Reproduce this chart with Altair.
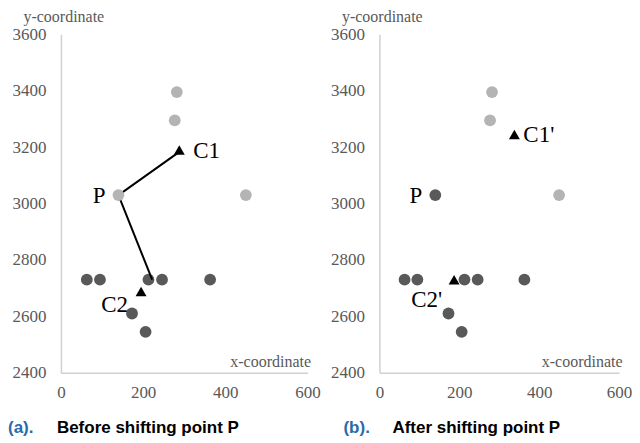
import altair as alt
import pandas as pd

# ---- data ----
light_x = [282, 277, 450]
light_y = [3395, 3295, 3030]
dark_x = [63, 95, 213, 246, 363, 173, 206]
dark_y = [2730, 2730, 2730, 2730, 2730, 2610, 2545]
p_xy = (140, 3030)
c1_before = (288, 3190)
c2_before = (195, 2688)
c1_after = (338, 3245)
c2_after = (187, 2730)
line_x = [288, 140, 222]
line_y = [3183, 3030, 2730]
captions = [("(a).", "Before shifting point P"), ("(b).", "After shifting point P")]
x_ticks = [0, 200, 400, 600]
y_ticks = [2400, 2600, 2800, 3000, 3200, 3400, 3600]

H = 339
SERIF = "Times New Roman"
SANS = "Liberation Sans"

xs = alt.Scale(domain=[0, 600], nice=False)
ys = alt.Scale(domain=[2400, 3600], nice=False)


def make_axes(w):
    xaxis = alt.Axis(values=x_ticks, title="x-coordinate", format="d", labelFont=SERIF,
                     titleFont=SERIF, titleX=w + 3)
    yaxis = alt.Axis(values=y_ticks, title="y-coordinate", format="d", labelFont=SERIF,
                     titleFont=SERIF)
    return xaxis, yaxis


def pts(xv, yv):
    return pd.DataFrame({"x": xv, "y": yv})


def panel(w, p_color, c1, c2, c1_label, c2_label, c1_dx, c2_dx, c2_dy, with_line, cap, cap_x, cap2_x):
    xaxis, yaxis = make_axes(w)

    def enc(ch):
        return ch.encode(x=alt.X("x:Q", scale=xs, axis=xaxis), y=alt.Y("y:Q", scale=ys, axis=yaxis))

    light = enc(alt.Chart(pts(light_x, light_y)).mark_circle(size=140, opacity=1, color="#b4b4b4"))
    dark = enc(alt.Chart(pts(dark_x, dark_y)).mark_circle(size=140, opacity=1, color="#595959"))
    pp = enc(alt.Chart(pts([p_xy[0]], [p_xy[1]])).mark_circle(size=140, opacity=1, color=p_color))
    cen = enc(alt.Chart(pts([c1[0], c2[0]], [c1[1], c2[1]])).mark_point(
        shape="triangle-up", size=120, filled=True, opacity=1, color="black"))
    tp = enc(alt.Chart(pd.DataFrame({"x": [p_xy[0]], "y": [p_xy[1]], "t": ["P"]})).mark_text(
        font=SERIF, fontSize=23, align="right", baseline="middle", dx=-13, dy=1, color="black")).encode(text="t:N")
    t1 = enc(alt.Chart(pd.DataFrame({"x": [c1[0]], "y": [c1[1]], "t": [c1_label]})).mark_text(
        font=SERIF, fontSize=23, align="left", baseline="middle", dx=c1_dx, dy=1, color="black")).encode(text="t:N")
    t2 = enc(alt.Chart(pd.DataFrame({"x": [c2[0]], "y": [c2[1]], "t": [c2_label]})).mark_text(
        font=SERIF, fontSize=23, align="right", baseline="middle", dx=c2_dx, dy=c2_dy, color="black")).encode(text="t:N")
    capd = pd.DataFrame({"a": [cap[0]], "b": [cap[1]]})
    ca = alt.Chart(capd).mark_text(font=SANS, fontSize=17, fontWeight="bold", color="#2a6aa8",
                                   align="left", baseline="alphabetic").encode(
        x=alt.value(cap_x), y=alt.value(H + 60), text="a:N")
    cb = alt.Chart(capd).mark_text(font=SANS, fontSize=17, fontWeight="bold", color="black",
                                   align="left", baseline="alphabetic").encode(
        x=alt.value(cap2_x), y=alt.value(H + 60), text="b:N")
    layers = [light, dark]
    if with_line:
        ln = enc(alt.Chart(pd.DataFrame({"x": line_x, "y": line_y, "o": [0, 1, 2]})).mark_line(
            color="black", strokeWidth=2)).encode(order="o:Q")
        layers.append(ln)
    layers += [pp, cen, tp, t1, t2, ca, cb]
    return alt.layer(*layers).properties(width=w, height=H)


left = panel(247, "#b4b4b4", c1_before, c2_before, "C1", "C2", 14, -13, 14, True, captions[0], -53, -4)
right = panel(240, "#595959", c1_after, c2_after, "C1'", "C2'", 9, -12, 20, False, captions[1], -36, 13)

chart = (alt.hconcat(left, right, spacing=10)
         .configure(padding=0)
         .configure_view(stroke=None)
         .configure_axis(grid=False, ticks=False, domainColor="#d0d0d0", domainWidth=1.5,
                         labelFont=SERIF, labelFontSize=17, labelColor="#595959",
                         labelFlush=False, titleFont=SERIF, titleFontSize=16,
                         titleFontWeight="normal", titleColor="#595959")
         .configure_axisX(labelPadding=12, titleAnchor="end", titleAlign="right",
                          titleY=-6, titleBaseline="alphabetic")
         .configure_axisY(labelPadding=15, titleAngle=0, titleAlign="left", titleAnchor="start",
                          titleX=-38, titleY=-13, titleBaseline="alphabetic"))
chart.save("out.html", embed_options={"renderer": "svg", "actions": False})
